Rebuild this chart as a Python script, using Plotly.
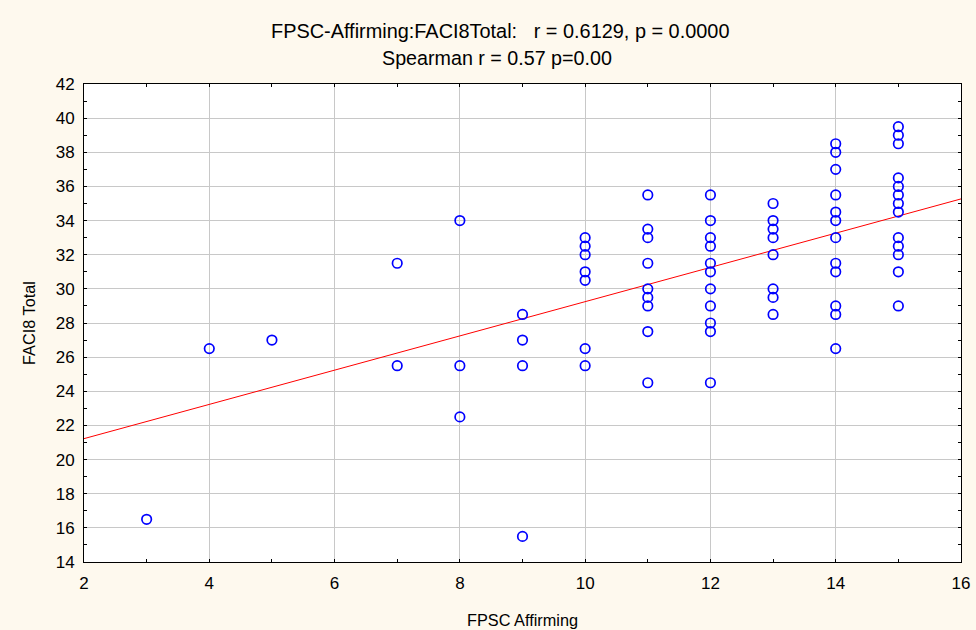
import numpy as np
import plotly.graph_objects as go

# FPSC Affirming score (x) and FACI8 Total (y)
fpsc_affirming = (
    [3] + [4] + [5] + [7] * 2 + [8] * 3 + [9] * 4 + [10] * 7 + [11] * 9
    + [12] * 11 + [13] * 8 + [14] * 12 + [15] * 13
)
faci8_total = [
    16.5,
    26.5,
    27,
    31.5, 25.5,
    34, 25.5, 22.5,
    28.5, 27, 25.5, 15.5,
    33, 32.5, 32, 31, 30.5, 26.5, 25.5,
    35.5, 33.5, 33, 31.5, 30, 29.5, 29, 27.5, 24.5,
    35.5, 34, 33, 32.5, 31.5, 31, 30, 29, 28, 27.5, 24.5,
    35, 34, 33.5, 33, 32, 30, 29.5, 28.5,
    38.5, 38, 37, 35.5, 34.5, 34, 33, 31.5, 31, 29, 28.5, 26.5,
    39.5, 39, 38.5, 36.5, 36, 35.5, 35, 34.5, 33, 32.5, 32, 31, 29,
]

# regression line as drawn in the picture (intercept, slope)
fit_intercept = 19.22
fit_slope = 1.003

title_line1 = "FPSC-Affirming:FACI8Total:   r = 0.6129, p = 0.0000"
title_line2 = "Spearman r = 0.57 p=0.00"
x_title = "FPSC Affirming"
y_title = "FACI8 Total"

x_range = [2, 16]
y_range = [14, 42]

fit_x = np.array(x_range, dtype=float)
fit_y = fit_intercept + fit_slope * fit_x

FONT = "Liberation Sans, Arial, sans-serif"
BG = "#FEF9EE"

fig = go.Figure()
fig.add_trace(go.Scatter(
    x=fit_x, y=fit_y, mode="lines",
    line=dict(color="#FF0000", width=1), hoverinfo="skip", showlegend=False,
))
fig.add_trace(go.Scatter(
    x=fpsc_affirming, y=faci8_total, mode="markers",
    marker=dict(symbol="circle-open", size=9.5, color="#0000FF", line=dict(width=1.7, color="#0000FF")),
    showlegend=False,
))

axis_common = dict(
    showline=True, linecolor="black", linewidth=1, mirror="ticks",
    ticks="inside", ticklen=3, tickcolor="black", tickwidth=1,
    showgrid=True, gridcolor="#C8C8C8", gridwidth=1, zeroline=False,
    tickfont=dict(family=FONT, size=17, color="black"),
    minor=dict(dtick=1, ticks="inside", ticklen=3, tickcolor="black", showgrid=False),
    automargin=False,
)

fig.update_xaxes(range=x_range, dtick=2, tick0=2, ticklabelstandoff=6,
                 title=dict(text=x_title, font=dict(family=FONT, size=16.3, color="black"), standoff=22),
                 **axis_common)
fig.update_yaxes(range=y_range, dtick=2, tick0=14, ticklabelstandoff=5,
                 title=dict(text=y_title, font=dict(family=FONT, size=16.3, color="black"), standoff=15),
                 **axis_common)

fig.add_annotation(text=title_line1, xref="paper", yref="paper", x=(500 - 84) / 877, y=1,
                   yshift=53, showarrow=False, xanchor="center", yanchor="middle",
                   font=dict(family=FONT, size=19.9, color="black"))
fig.add_annotation(text=title_line2, xref="paper", yref="paper", x=(497 - 84) / 877, y=1,
                   yshift=26, showarrow=False, xanchor="center", yanchor="middle",
                   font=dict(family=FONT, size=19.7, color="black"))

fig.update_layout(
    width=976, height=630,
    margin=dict(l=84, r=15, t=84, b=68),
    paper_bgcolor=BG, plot_bgcolor="white",
    font=dict(family=FONT, size=17, color="black"),
)

fig.write_html("out.html", config={"displayModeBar": False},
               post_script="document.body.style.margin='0';")
